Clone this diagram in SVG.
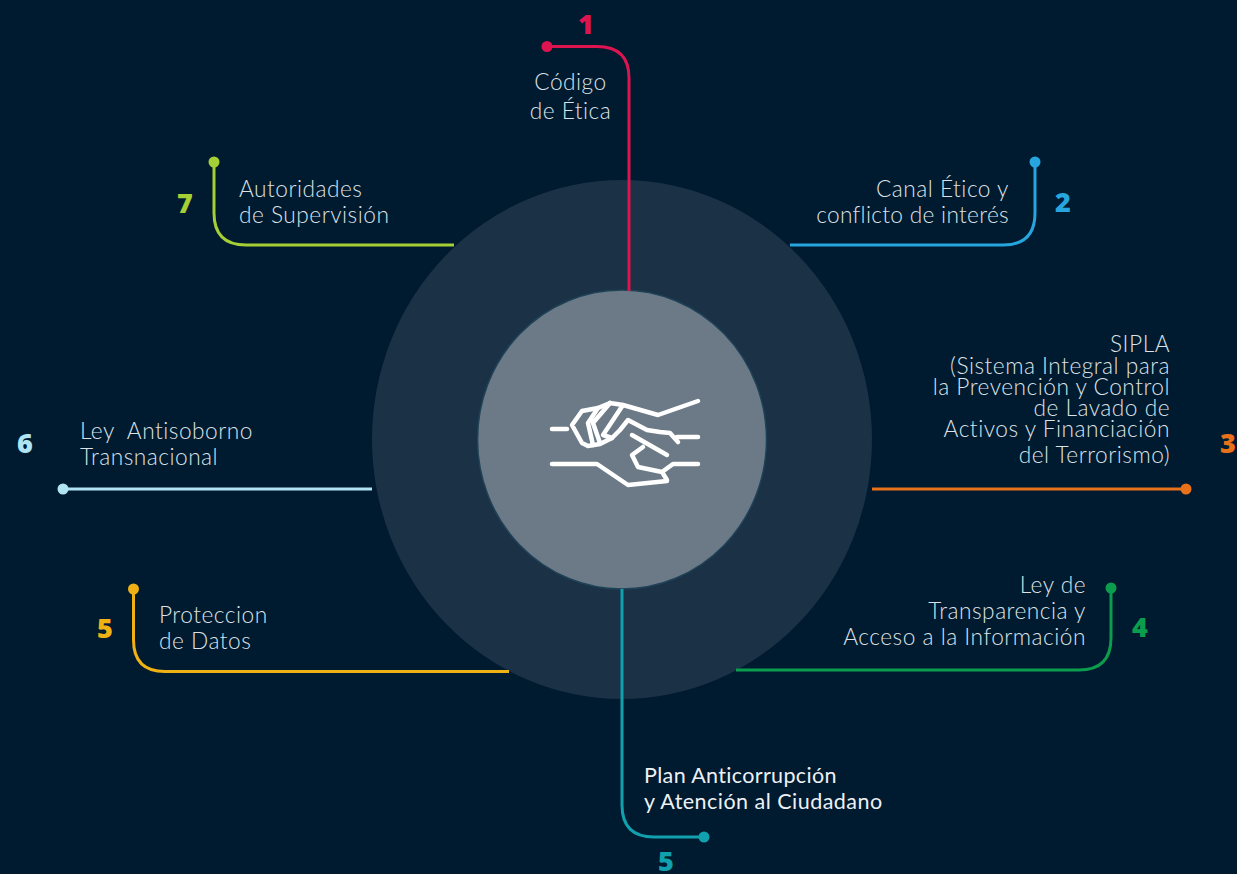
<svg xmlns="http://www.w3.org/2000/svg" width="1237" height="874" viewBox="0 0 1237 874">
<style>
.t{font-family:Lato,"Open Sans","Liberation Sans",sans-serif;font-size:22.7px;font-weight:300;fill:#dce2e7;letter-spacing:.5px}
.p{font-family:Lato,"Open Sans","Liberation Sans",sans-serif;font-size:21.500px;fill:#eef1f4;letter-spacing:.35px}
.e{text-anchor:end}
.m{text-anchor:middle}
.n{font-family:"Open Sans","Liberation Sans",sans-serif;font-size:27px;font-weight:800;text-anchor:middle}
.c{fill:none;stroke-width:3}
.h{fill:none;stroke:#fff;stroke-width:4.5;stroke-linecap:round;stroke-linejoin:round}
</style>
<rect width="1237" height="874" fill="#001a30"/>
<g id="hub">
<ellipse cx="622" cy="439.500" rx="250" ry="259.500" fill="#1b3145"/>
<ellipse cx="622" cy="439.500" rx="144.500" ry="149.500" fill="#6b7a86" stroke="#1f4258" stroke-width="1.500"/>
<g id="hands" class="h">
<path d="M552 429H567"/>
<path d="M698 401L658 415L623 405L610 403L598 408L582 411L572 425L582 443L588 446L600 444L612 438L620 430L628 420L647 430L660 432L670 433L678 442M677 437H698"/>
<path d="M598 408L588 423L593 445M610 403L593 423L600 443M623 405L603 435L612 438"/>
<path d="M632 435L667 455M643 447L632 455L638 467L662 472L667 480M662 472L673 464H698"/>
<path d="M552 464H597L628 485L667 481"/>
</g>
</g>
<g id="connectors">
<path class="c" stroke="#dc1551" d="M547 46.500H597Q629 46.500 629 78V291"/>
<circle cx="547" cy="46.500" r="5.500" fill="#dc1551"/>
<path class="c" stroke="#27a5de" d="M790 245H1003Q1035 245 1035 213V162"/>
<circle cx="1035" cy="162" r="5.500" fill="#27a5de"/>
<path class="c" stroke="#e8711a" d="M872 489H1186"/>
<circle cx="1186" cy="489" r="5.500" fill="#e8711a"/>
<path class="c" stroke="#0b9d4d" d="M736 670H1079Q1111 670 1111 638V588"/>
<circle cx="1111" cy="588" r="5.500" fill="#0b9d4d"/>
<path class="c" stroke="#11a0ad" d="M622 589V805Q622 837 654 837H704"/>
<circle cx="704" cy="837" r="5.500" fill="#11a0ad"/>
<path class="c" stroke="#f0b114" d="M509 671.500H165Q133.500 671.500 133.500 640V589"/>
<circle cx="133.500" cy="589" r="5.500" fill="#f0b114"/>
<path class="c" stroke="#b0e4f2" d="M372 489H63"/>
<circle cx="63" cy="489" r="5.500" fill="#b0e4f2"/>
<path class="c" stroke="#a4cf35" d="M454 245H246Q214 245 214 213V162"/>
<circle cx="214" cy="162" r="5.500" fill="#a4cf35"/>
</g>
<g id="node-1"><text class="n" x="586" y="34" fill="#dc1551">1</text>
<text class="t m" x="570.500" y="90">Código</text><text class="t m" x="570.500" y="119">de Ética</text></g>
<g id="node-2"><text class="n" x="1063" y="212" fill="#27a5de">2</text>
<text class="t e" x="1009" y="197">Canal Ético y</text><text class="t e" x="1009" y="223" style="letter-spacing:.3px">conflicto de interés</text></g>
<g id="node-3"><text class="n" x="1228" y="453" fill="#e8711a">3</text>
<text class="t e"><tspan x="1170" y="352">SIPLA</tspan><tspan x="1170" y="374">(Sistema Integral para</tspan><tspan x="1170" y="395">la Prevención y Control</tspan><tspan x="1170" y="416">de Lavado de</tspan><tspan x="1170" y="437">Activos y Financiación</tspan><tspan x="1170" y="463">del Terrorismo)</tspan></text></g>
<g id="node-4"><text class="n" x="1140" y="637" fill="#0b9d4d">4</text>
<text class="t e" x="1086" y="593">Ley de</text><text class="t e" x="1086" y="619">Transparencia y</text><text class="t e" x="1086" y="645">Acceso a la Información</text></g>
<g id="node-5a"><text class="n" x="666" y="871" fill="#11a0ad">5</text>
<text class="p" x="644" y="783">Plan Anticorrupción</text><text class="p" x="644" y="809" style="letter-spacing:.47px">y Atención al Ciudadano</text></g>
<g id="node-5b"><text class="n" x="105" y="638" fill="#f0b114">5</text>
<text class="t" x="159" y="623">Proteccion</text><text class="t" x="159" y="649">de Datos</text></g>
<g id="node-6"><text class="n" x="25" y="453" fill="#b0e4f2">6</text>
<text class="t" x="80" y="439" xml:space="preserve">Ley  Antisoborno</text><text class="t" x="80" y="465">Transnacional</text></g>
<g id="node-7"><text class="n" x="185" y="213" fill="#a4cf35">7</text>
<text class="t" x="239" y="197">Autoridades</text><text class="t" x="239" y="223">de Supervisión</text></g>
</svg>
